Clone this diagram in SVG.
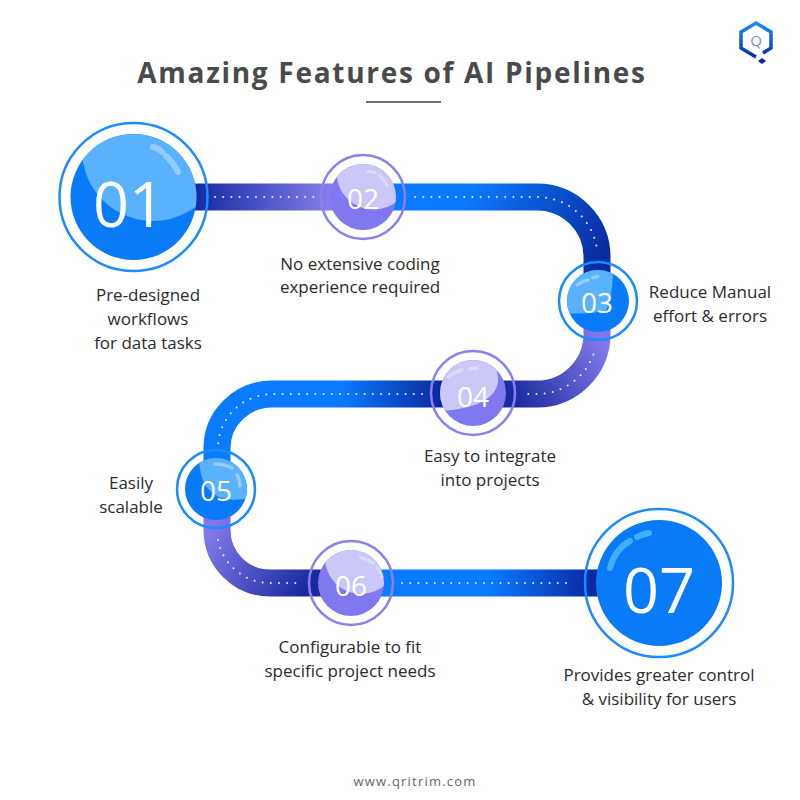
<svg xmlns="http://www.w3.org/2000/svg" width="800" height="800" viewBox="0 0 800 800">
<style>
.bar{fill:none;stroke-width:27}
.dots{fill:none;stroke:#fff;stroke-width:2;stroke-linecap:round;stroke-dasharray:0 8.2;opacity:.9}
.lab{font-family:"Open Sans","Liberation Sans",sans-serif;font-size:17px;fill:#2b2b2b;text-anchor:middle}
.num{font-family:"Open Sans","Liberation Sans",sans-serif;font-weight:400;fill:#fff;text-anchor:middle}
.big{font-size:63px}.small{font-size:28px}
.rb{fill:none;stroke:#1a8cff;stroke-width:2.5}.rp{fill:none;stroke:#8a80ef;stroke-width:2.5}
.cb{fill:#0a7bf7}.cp{fill:#8078ee}
.lb{fill:#5ab2ff}.lp{fill:#cbc8f9}
.gl{fill:none;stroke:#fff;stroke-opacity:.35;stroke-linecap:round}
</style>
<defs>
<linearGradient id="g1" gradientUnits="userSpaceOnUse" x1="197" y1="197" x2="335" y2="197"><stop offset="0" stop-color="#152ba5"/><stop offset="1" stop-color="#8a80ec"/></linearGradient>
<linearGradient id="g2" gradientUnits="userSpaceOnUse" x1="470" y1="190" x2="600" y2="265"><stop offset="0" stop-color="#0a7bff"/><stop offset="1" stop-color="#0a2aa0"/></linearGradient>
<linearGradient id="g3" gradientUnits="userSpaceOnUse" x1="600" y1="340" x2="510" y2="394"><stop offset="0" stop-color="#8078ea"/><stop offset="1" stop-color="#1a2a9e"/></linearGradient>
<linearGradient id="g4" gradientUnits="userSpaceOnUse" x1="440" y1="394" x2="340" y2="394"><stop offset="0" stop-color="#0c2aa0"/><stop offset="1" stop-color="#0a7bff"/></linearGradient>
<linearGradient id="g5" gradientUnits="userSpaceOnUse" x1="215" y1="525" x2="310" y2="583"><stop offset="0" stop-color="#8078ea"/><stop offset="1" stop-color="#1a2a9e"/></linearGradient>
<linearGradient id="g6" gradientUnits="userSpaceOnUse" x1="490" y1="583" x2="590" y2="583"><stop offset="0" stop-color="#0a7bff"/><stop offset="1" stop-color="#0a2aa5"/></linearGradient>
<linearGradient id="g7" gradientUnits="userSpaceOnUse" x1="756" y1="23" x2="756" y2="58"><stop offset="0" stop-color="#1a8cff"/><stop offset="1" stop-color="#0a2aa0"/></linearGradient>
<clipPath id="c1"><circle cx="133.500" cy="197" r="63"/></clipPath>
<clipPath id="c2"><circle cx="363" cy="197" r="33"/></clipPath>
<clipPath id="c3"><circle cx="598" cy="301" r="31"/></clipPath>
<clipPath id="c4"><circle cx="473" cy="393" r="33"/></clipPath>
<clipPath id="c5"><circle cx="216" cy="489" r="31"/></clipPath>
<clipPath id="c6"><circle cx="351" cy="583" r="33"/></clipPath>
</defs>
<rect width="800" height="800" fill="#fff"/>

<g id="connectors">
<path class="bar" stroke="url(#g1)" d="M180,197H363"/>
<path class="bar" stroke="url(#g2)" d="M363,197H537A60,60 0 0 1 597,257V301"/>
<path class="bar" stroke="url(#g3)" d="M597,301V334A60,60 0 0 1 537,394H473"/>
<path class="bar" stroke="url(#g4)" d="M473,394H272A55,54 0 0 0 217,448V489"/>
<path class="bar" stroke="url(#g5)" d="M217,489V530A53,53 0 0 0 270,583H351"/>
<path class="bar" stroke="url(#g6)" d="M351,583H640"/>
<path class="dots" d="M215,197H314"/>
<path class="dots" d="M415,197H537A60,60 0 0 1 597,250"/>
<path class="dots" d="M593.400,354.500A60,60 0 0 1 537,394H523"/>
<path class="dots" d="M422,394H272A55,54 0 0 0 218,450"/>
<path class="dots" d="M218,540A53,53 0 0 0 270,583H303"/>
<path class="dots" d="M402,583H573"/>
</g>

<g id="node-01">
<circle class="cb" cx="133.500" cy="197" r="63"/>
<circle class="lb" clip-path="url(#c1)" cx="153" cy="150" r="71"/>
<path class="gl" stroke-width="6" d="M153,147Q158,148 162,152M166,156Q173,162 178,172"/>
<circle class="rb" cx="133.500" cy="197" r="74"/>
<text class="num big" x="129" y="227">01</text>
</g>

<g id="node-02">
<circle class="cp" cx="363" cy="197" r="33"/>
<circle class="lp" clip-path="url(#c2)" cx="373.500" cy="172.500" r="37"/>
<path class="gl" stroke-width="3" d="M368,171.500Q372,171.500 375,172.500M379,175Q384,179 387,185"/>
<circle class="rp" cx="363" cy="197" r="42"/>
<text class="num small" x="363" y="209">02</text>
</g>

<g id="node-03">
<circle class="cb" cx="598" cy="301" r="31"/>
<path class="lb" clip-path="url(#c3)" d="M613,268Q613,296 606,310Q590,315 565,313L560,262Z"/>
<path class="gl" stroke-width="3.500" d="M577,285Q582,281 588,280M593,277.500Q596,276.500 598,276.500"/>
<circle class="rb" cx="598" cy="301" r="39"/>
<text class="num small" x="597" y="313">03</text>
</g>

<g id="node-04">
<circle class="cp" cx="473" cy="393" r="33"/>
<path class="lp" clip-path="url(#c4)" d="M493,362C506,385 496,408 440,411L430,355Z"/>
<path class="gl" stroke-width="3.500" d="M448,377Q454,372 462,370M470,369Q474,368 477,368"/>
<circle class="rp" cx="473" cy="393" r="42"/>
<text class="num small" x="473" y="407">04</text>
</g>

<g id="node-05">
<circle class="cb" cx="216" cy="489" r="31"/>
<path class="lb" clip-path="url(#c5)" d="M199,455C199,490 215,505 250,498L252,450Z"/>
<path class="gl" stroke-width="3.500" d="M215,464Q225,464 232,468M237,475Q240,480 240,486"/>
<circle class="rb" cx="216" cy="489" r="39"/>
<text class="num small" x="216" y="501">05</text>
</g>

<g id="node-06">
<circle class="cp" cx="351" cy="583" r="33"/>
<circle class="lp" clip-path="url(#c6)" cx="361" cy="558" r="36"/>
<path class="gl" stroke-width="3" d="M360,557Q367,559 373,563M377,567Q381,572 382,577"/>
<circle class="rp" cx="351" cy="583" r="42"/>
<text class="num small" x="351" y="596">06</text>
</g>

<g id="node-07">
<circle class="cb" cx="659" cy="583" r="63"/>
<path fill="none" stroke="#3fb0ff" stroke-linecap="round" stroke-width="6" d="M610,568Q615,549 630,541M637,537Q643,534 649,533"/>
<circle class="rb" cx="659" cy="583" r="74"/>
<text class="num big" x="659" y="613">07</text>
</g>

<g id="labels">
<text class="lab" x="148" y="301">Pre-designed</text>
<text class="lab" x="148" y="325">workflows</text>
<text class="lab" x="148" y="349">for data tasks</text>
<text class="lab" x="360" y="270">No extensive coding</text>
<text class="lab" x="360" y="293">experience required</text>
<text class="lab" x="710" y="298">Reduce Manual</text>
<text class="lab" x="710" y="322">effort &amp; errors</text>
<text class="lab" x="490" y="462">Easy to integrate</text>
<text class="lab" x="490" y="486">into projects</text>
<text class="lab" x="131" y="489">Easily</text>
<text class="lab" x="131" y="513">scalable</text>
<text class="lab" x="350" y="653">Configurable to fit</text>
<text class="lab" x="350" y="677">specific project needs</text>
<text class="lab" x="659" y="681">Provides greater control</text>
<text class="lab" x="659" y="705">&amp; visibility for users</text>
</g>

<text x="392" y="83" text-anchor="middle" font-family="'Open Sans','Liberation Sans',sans-serif" font-weight="700" font-size="28" letter-spacing="1.700" fill="#4a4a4a">Amazing Features of AI Pipelines</text>
<line x1="366" y1="102" x2="441" y2="102" stroke="#444" stroke-width="1.500"/>
<text x="415" y="786" text-anchor="middle" font-family="'Open Sans','Liberation Sans',sans-serif" font-size="13" letter-spacing="1.200" fill="#666">www.qritrim.com</text>

<g id="logo">
<path fill="none" stroke="url(#g7)" stroke-width="3.500" d="M763,53L771,48V32L756,23L741,32V48L756,57"/>
<path fill="#0a2aa0" d="M762,58L766,61L762,64L758,61Z"/>
<text x="756" y="46" text-anchor="middle" font-family="'Open Sans','Liberation Sans',sans-serif" font-size="15" fill="#7f88f0">Q</text>
</g>
</svg>
